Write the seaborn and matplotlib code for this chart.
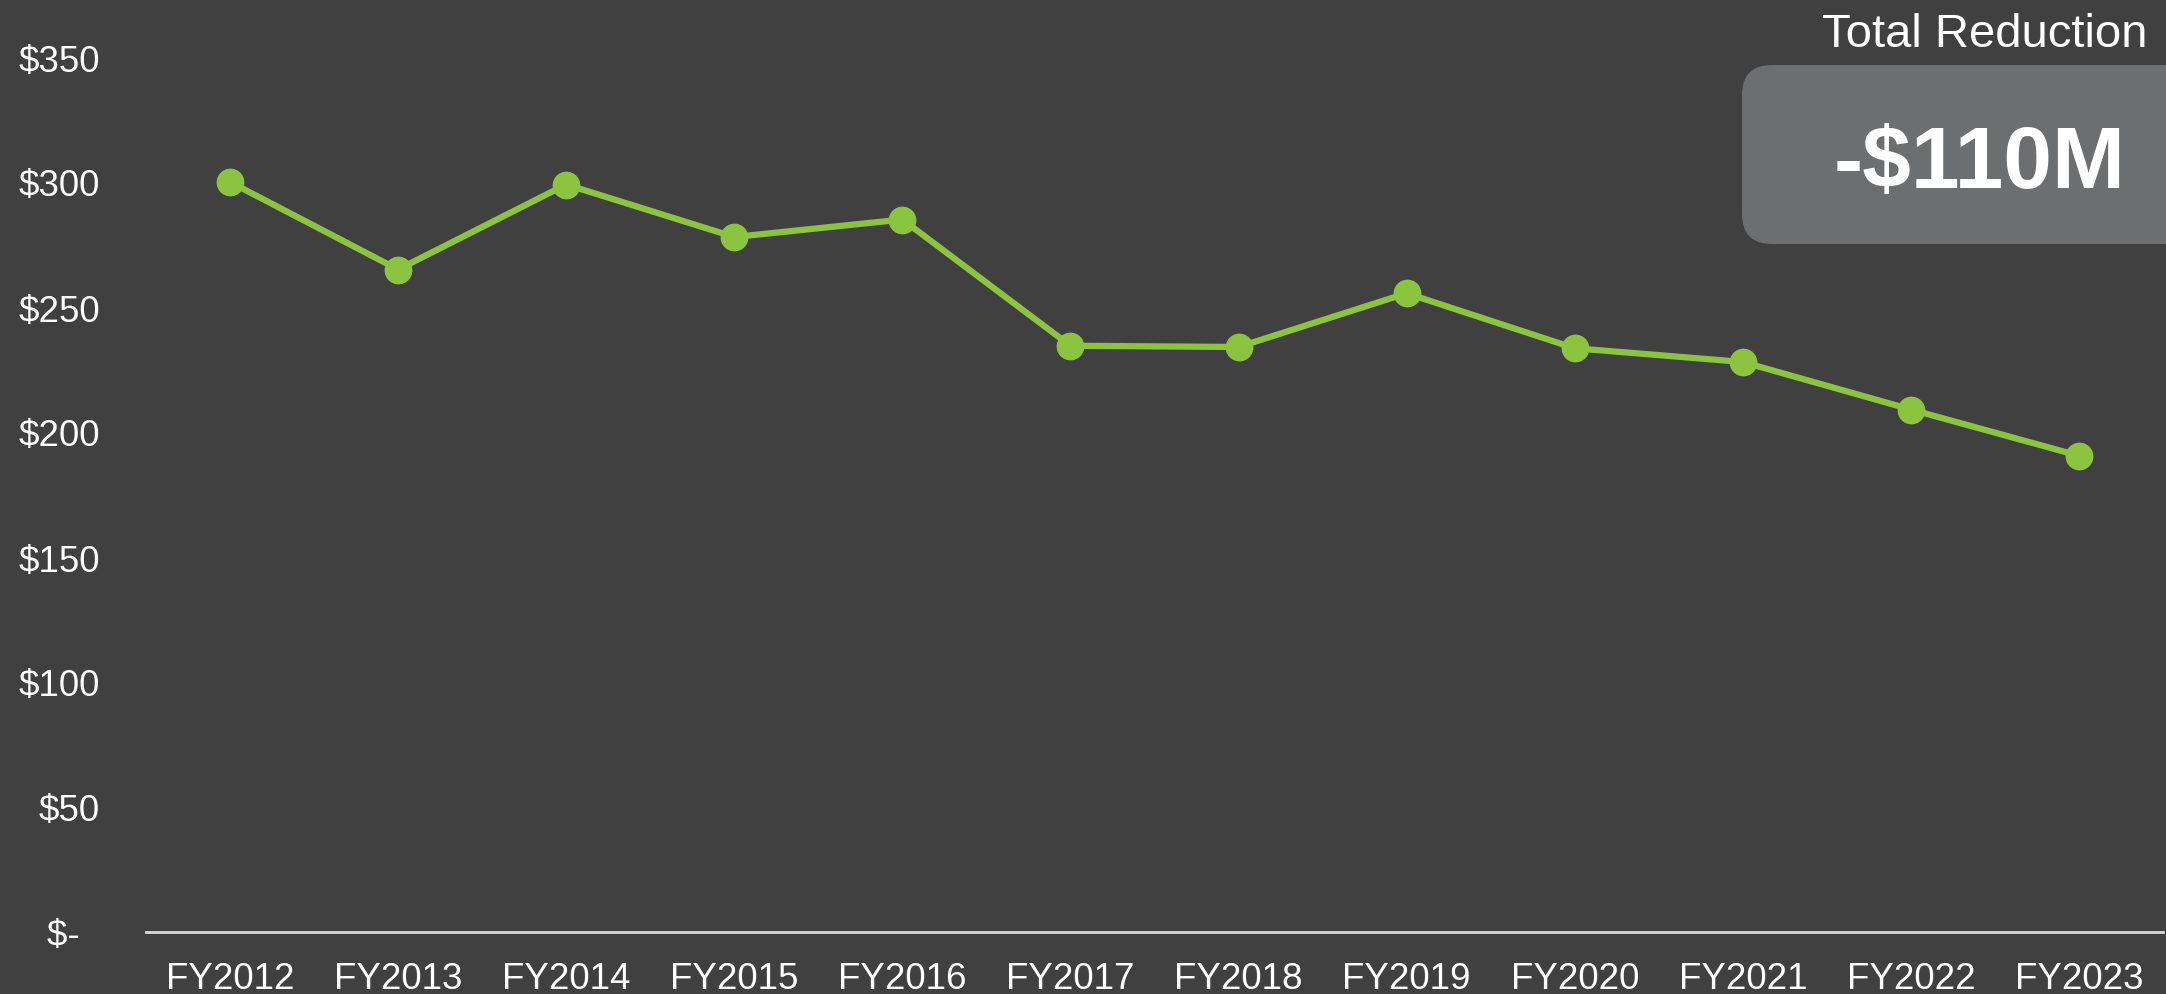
import pandas as pd
import seaborn as sns
import matplotlib.pyplot as plt
from matplotlib.patches import FancyBboxPatch

# fiscal years and spend ($M)
years = ['FY2012', 'FY2013', 'FY2014', 'FY2015', 'FY2016', 'FY2017',
         'FY2018', 'FY2019', 'FY2020', 'FY2021', 'FY2022', 'FY2023']
spend = [300, 265, 299, 278, 285, 234.5, 234, 255.5, 233.5, 228, 209, 190.5]
y_ticks = [0, 50, 100, 150, 200, 250, 300, 350]
y_labels = ['$-  ', '$50', '$100', '$150', '$200', '$250', '$300', '$350']
total_text = '-$110M'

BG = '#404040'
GREEN = '#8BC43F'

sns.set_style("dark")
plt.rcParams['font.family'] = ['Liberation Sans', 'DejaVu Sans']

df = pd.DataFrame({'year': years, 'spend': spend})

fig = plt.figure(figsize=(21.66, 9.95), dpi=100, facecolor=BG)
ax = fig.add_axes([146 / 2166, 62 / 995, 2017 / 2166, 875 / 995])
ax.set_facecolor(BG)

sns.lineplot(data=df, x='year', y='spend', ax=ax, color=GREEN, linewidth=4.5,
             marker='o', markersize=20, markeredgewidth=0, sort=False)

ax.set_xlim(-0.5, len(years) - 0.5)
ax.set_ylim(0, 350)
ax.set_yticks(y_ticks)
ax.set_yticklabels(y_labels)
ax.set_xlabel('')
ax.set_ylabel('')
ax.grid(False)
ax.tick_params(axis='both', length=0, colors='white', labelsize=26.5)
ax.tick_params(axis='y', pad=33)
ax.tick_params(axis='x', pad=21)
for side in ['top', 'right', 'left']:
    ax.spines[side].set_visible(False)
ax.spines['bottom'].set_color('#D9D9D9')
ax.spines['bottom'].set_linewidth(2)

# summary box top right
box = FancyBboxPatch((17.42, 7.50), 5.0, 1.79,
                     boxstyle='round,pad=0,rounding_size=0.3',
                     transform=fig.dpi_scale_trans,
                     facecolor='#6D6E70', edgecolor='none')
fig.patches.append(box)
fig.text(2147 / 2166, (995 - 47) / 995, 'Total Reduction', color='white',
         fontsize=34, ha='right', va='baseline')
fig.text(1980 / 2166, (995 - 188) / 995, total_text, color='white',
         fontsize=63, fontweight='bold', ha='center', va='baseline')

fig.savefig('out.png', dpi=100, facecolor=BG)
